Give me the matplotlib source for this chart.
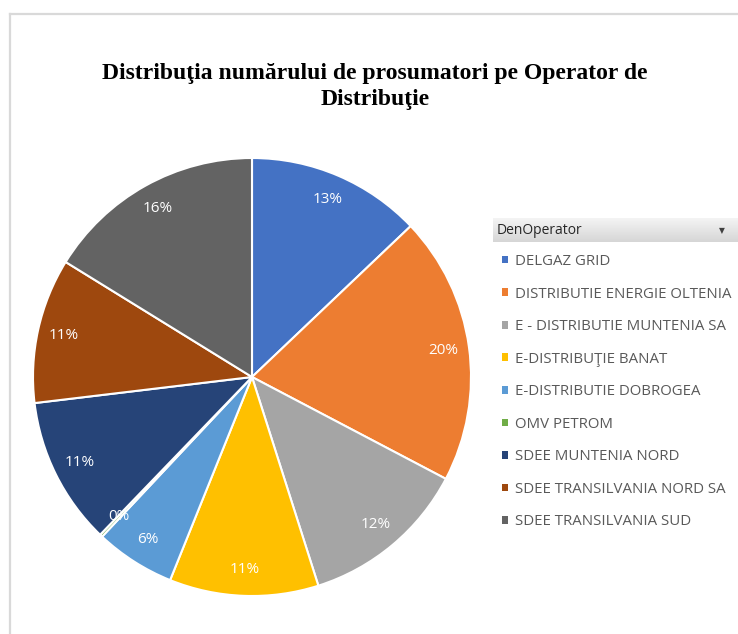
import numpy as np
import matplotlib.pyplot as plt
from matplotlib.colors import LinearSegmentedColormap

# Data (share of prosumers, %)
operators = [
    'DELGAZ GRID',
    'DISTRIBUTIE ENERGIE OLTENIA',
    'E - DISTRIBUTIE MUNTENIA SA',
    'E-DISTRIBUŢIE BANAT',
    'E-DISTRIBUTIE DOBROGEA',
    'OMV PETROM',
    'SDEE MUNTENIA NORD',
    'SDEE TRANSILVANIA NORD SA',
    'SDEE TRANSILVANIA SUD',
]
shares = [12.9, 19.8, 12.4, 11.0, 5.9, 0.2, 10.9, 10.7, 16.2]
colors = ['#4472C4', '#ED7D31', '#A5A5A5', '#FFC000', '#5B9BD5',
          '#70AD47', '#264478', '#9E480E', '#636363']

W, H = 738, 634
fig = plt.figure(figsize=(W / 100, H / 100), dpi=100)

# chart border (only top and left visible in the crop)
fig.add_artist(plt.Line2D([9.5 / W, 9.5 / W], [0, 1 - 13.5 / H], color='#D9D9D9', lw=1.6))
fig.add_artist(plt.Line2D([9.5 / W, 1], [1 - 13.5 / H, 1 - 13.5 / H], color='#D9D9D9', lw=1.6))

# title
fig.text(375 / W, 1 - 86.5 / H, 'Distribuţia numărului de prosumatori pe Operator de\nDistribuţie',
         ha='center', va='center', family='Liberation Serif', weight='bold',
         fontsize=17, linespacing=1.3)

# pie
cx, cy, r = 252, 377, 219
ax = fig.add_axes([(cx - r) / W, 1 - (cy + r) / H, 2 * r / W, 2 * r / H])
wedges, _, autotexts = ax.pie(
    shares, colors=colors, startangle=90, counterclock=False, radius=1,
    autopct='%.0f%%', pctdistance=0.88,
    wedgeprops=dict(edgecolor='white', linewidth=1.5),
    textprops=dict(color='white', fontsize=11, family='Open Sans'))
ax.set_xlim(-1, 1)
ax.set_ylim(-1, 1)
ax.set_aspect('equal')
ax.axis('off')

# legend header (pivot field button)
hax = fig.add_axes([493 / W, 1 - 242 / H, (W - 493) / W, 24 / H])
grad = np.linspace(0, 1, 50).reshape(-1, 1)
hax.imshow(grad, aspect='auto', extent=[0, 1, 0, 1],
           cmap=LinearSegmentedColormap.from_list('hdr', ['#F4F4F4', '#D6D6D6']))
hax.set_xlim(0, 1)
hax.set_ylim(0, 1)
hax.axis('off')
hax.text(0.015, 0.5, 'DenOperator', va='center', ha='left', fontsize=10,
         family='Open Sans', color='#262626')
hax.text(0.935, 0.48, '▼', va='center', ha='center', fontsize=5.5, color='#404040')

# legend
leg = fig.legend(wedges, operators, loc='upper left',
                 bbox_to_anchor=(502 / W, 1 - 254 / H), frameon=False,
                 handlelength=0.4, handleheight=0.4, handletextpad=0.45,
                 labelspacing=1.17, borderaxespad=0, borderpad=0,
                 prop=dict(family='Open Sans', size=10.8))
for t in leg.get_texts():
    t.set_color('#595959')
for h in leg.legend_handles:
    h.set_edgecolor('none')

fig.savefig('out.png', dpi=100)
